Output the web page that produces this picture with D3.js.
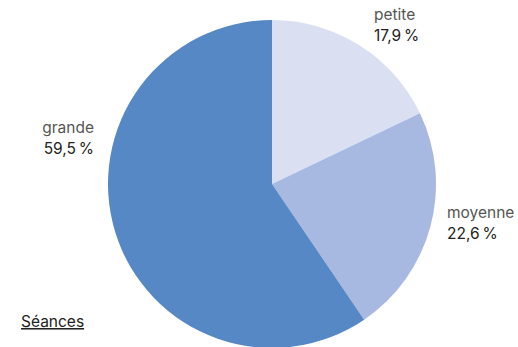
<!DOCTYPE html>
<html>
<head>
<meta charset="utf-8">
<script src="https://cdn.jsdelivr.net/npm/d3@7"></script>
<style>
  body { margin: 0; background: #fff; }
  text { font-family: Inter, "Liberation Sans", sans-serif; }
</style>
</head>
<body>
<svg id="chart"></svg>
<script>
var categories = ["petite", "moyenne", "grande"]
var shares = [17.9, 22.6, 59.5]
var colors = ["#dae0f2", "#a7b9e0", "#5688c6"]
var title = "Séances"

var dimensions = {
  width: 518,
  height: 347,
  cx: 272,
  cy: 184,
  radius: 164
}

var dataset = categories.map((c, i) => ({ name: c, value: shares[i], color: colors[i] }))

var svg = d3.select("#chart")
  .attr("width", dimensions.width)
  .attr("height", dimensions.height)

var pie = d3.pie().sort(null).value(d => d.value)
var arc = d3.arc().innerRadius(0).outerRadius(dimensions.radius)

var g = svg.append("g")
  .attr("transform", `translate(${dimensions.cx},${dimensions.cy})`)

g.selectAll("path")
  .data(pie(dataset))
  .enter()
  .append("path")
  .attr("d", arc)
  .attr("fill", d => d.data.color)

// label anchor points, relative to the centre
var labelPos = {
  petite: { x: 102, y: -164, anchor: "start" },
  moyenne: { x: 175, y: 34, anchor: "start" },
  grande: { x: -178, y: -51, anchor: "end" }
}

var fmt = v => d3.format(".1f")(v).replace(".", ",") + "\u2009%"

var labels = g.selectAll("g.label")
  .data(pie(dataset))
  .enter()
  .append("g")
  .attr("class", "label")
  .attr("transform", d => `translate(${labelPos[d.data.name].x},${labelPos[d.data.name].y})`)

labels.append("text")
  .attr("text-anchor", d => labelPos[d.data.name].anchor)
  .attr("font-size", 15.5)
  .attr("fill", "#555")
  .text(d => d.data.name)

labels.append("text")
  .attr("y", 21)
  .attr("text-anchor", d => labelPos[d.data.name].anchor)
  .attr("font-size", 15.5)
  .attr("fill", "#222")
  .text(d => fmt(d.data.value))

svg.append("text")
  .attr("x", 21)
  .attr("y", 327)
  .attr("font-size", 15.5)
  .attr("fill", "#222")
  .attr("text-decoration", "underline")
  .text(title)
</script>
</body>
</html>
